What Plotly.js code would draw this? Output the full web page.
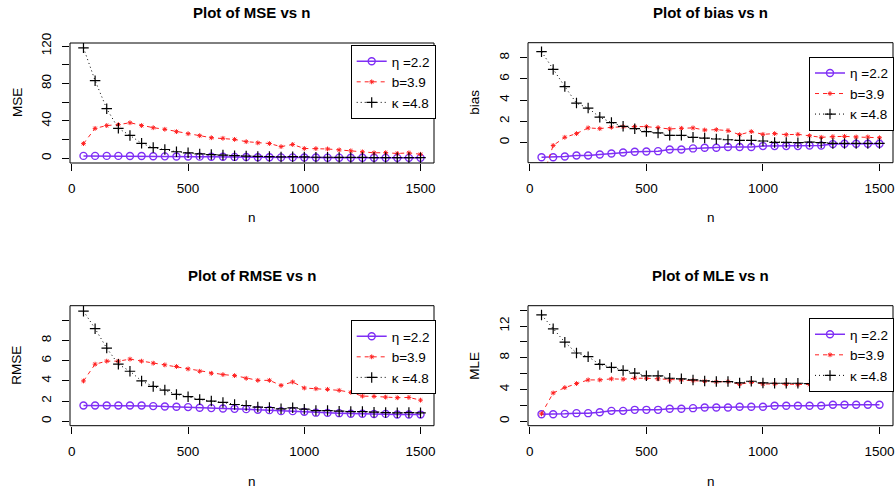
<!DOCTYPE html>
<html>
<head>
<meta charset="utf-8">
<script src="https://cdn.plot.ly/plotly-3.0.1.min.js"></script>
<style>html,body{margin:0;padding:0;background:#fff;}#chart{width:896px;height:488px;}</style>
</head>
<body>
<div id="chart"></div>
<script>
// ---- data ----
var n = [50,100,150,200,250,300,350,400,450,500,550,600,650,700,750,800,850,900,950,1000,1050,1100,1150,1200,1250,1300,1350,1400,1450,1500];

var seriesNames = ['\u03b7 =2.2', 'b=3.9', '\u03ba =4.8'];
var panelTitles = ['Plot of MSE vs n', 'Plot of bias vs n', 'Plot of RMSE vs n', 'Plot of MLE vs n'];
var yTitles = ['MSE', 'bias', 'RMSE', 'MLE'];
var xTickVals = [0, 500, 1000, 1500];
var xTickText = ['0', '500', '1000', '1500'];

var mseEta   = [2.6,2.6,2.6,2.6,2.5,2.5,2.2,2.1,2.0,1.9,1.8,1.6,1.6,1.5,1.4,1.2,1.1,1.0,1.0,0.9,0.8,0.7,0.7,0.6,0.6,0.6,0.5,0.5,0.5,0.5];
var mseB     = [15.7,32,35,36,38,35,32.7,31,28.5,26.3,24.2,22,21.4,20.2,17.8,16.5,15.8,12.5,14.8,10.5,10.4,10,9,8,6.9,5.9,6,5.2,5.8,4.3];
var mseKappa = [118,83,53,32,24.5,16,11.5,9.4,7,5.9,4.7,4,3.5,2.8,2.4,2.0,1.85,1.5,1.8,1.45,1.15,1.12,1.0,0.92,0.92,0.8,0.75,0.7,0.74,0.7];

var biasEta   = [-1.4,-1.4,-1.33,-1.24,-1.24,-1.14,-1.05,-0.95,-0.89,-0.86,-0.83,-0.67,-0.67,-0.57,-0.51,-0.51,-0.44,-0.44,-0.44,-0.35,-0.35,-0.35,-0.35,-0.29,-0.29,-0.16,-0.13,-0.13,-0.13,-0.13];
var biasB     = [-3.6,-0.29,0.48,0.83,1.37,1.3,1.43,1.49,1.49,1.49,1.4,1.27,1.33,1.37,1.17,1.2,1.11,0.73,1.02,0.76,0.83,0.73,0.76,0.63,0.48,0.54,0.57,0.51,0.51,0.44];
var biasKappa = [8.57,6.89,5.27,3.71,3.24,2.38,1.87,1.52,1.3,1.02,0.89,0.67,0.67,0.48,0.41,0.32,0.25,0.19,0.19,0.13,0.0,0.0,-0.03,0.03,-0.03,-0.1,-0.1,-0.1,-0.1,-0.1];

var rmseEta   = [1.56,1.56,1.56,1.56,1.56,1.56,1.5,1.46,1.43,1.4,1.33,1.3,1.26,1.23,1.2,1.13,1.1,1.0,1.0,0.93,0.85,0.83,0.8,0.74,0.74,0.72,0.73,0.67,0.67,0.66];
var rmseB     = [3.99,5.65,5.95,5.95,6.15,5.95,5.75,5.58,5.42,5.18,4.95,4.75,4.62,4.52,4.25,4.05,4.05,3.55,3.89,3.29,3.22,3.16,3.06,2.86,2.49,2.46,2.39,2.33,2.36,2.09];
var rmseKappa = [10.9,9.17,7.24,5.65,4.95,3.99,3.45,3.09,2.66,2.43,2.16,2.0,1.86,1.66,1.56,1.4,1.36,1.23,1.33,1.2,1.06,1.06,1.0,0.96,0.96,0.9,0.86,0.83,0.86,0.83];

var mleEta   = [0.89,0.89,0.93,1.02,1.02,1.14,1.31,1.31,1.44,1.44,1.44,1.57,1.57,1.65,1.74,1.74,1.74,1.82,1.82,1.82,1.95,1.95,1.95,1.95,1.95,2.08,2.08,2.08,2.08,2.08];
var mleB     = [0.93,3.56,4.24,4.75,5.21,5.21,5.34,5.3,5.42,5.42,5.34,5.21,5.21,5.13,5.04,4.96,5.0,4.66,4.92,4.7,4.7,4.66,4.62,4.62,4.41,4.45,4.45,4.45,4.49,4.28];
var mleKappa = [13.4,11.65,9.96,8.6,8.14,7.16,6.78,6.4,6.06,5.72,5.72,5.42,5.34,5.21,5.08,5.0,5.0,4.83,5.04,4.83,4.79,4.79,4.79,4.75,4.92,4.66,4.66,4.66,4.79,4.62];

var yRanges = [[-5, 123.2], [-1.92, 9.42], [-0.44, 11.44], [-0.56, 14.56]];
var yTickVals = [[0,20,40,60,80,100,120], [0,2,4,6,8], [0,2,4,6,8,10], [0,2,4,6,8,10,12,14]];
var yTickText = [['0','','40','','80','','120'], ['0','2','4','6','8'], ['0','2','4','6','8',''], ['0','','4','','8','','12','']];

// ---- styling ----
var FONT = 'Liberation Sans, Arial, Helvetica, sans-serif';
var W = 896, H = 488;
var colEta = '#7F2FF5', colB = '#FF2020', colK = '#000000';

// plot boxes in pixels [x0, x1, yTop, yBottom]
var boxes = [[70, 434, 43, 163], [528, 893, 42.7, 162.7], [70, 434, 305.7, 425.7], [528, 893, 305.7, 425.7]];
var legendPos = [[350.7, 45], [809, 56.7], [350.7, 320], [809, 318]];
var titleY = [12.5, 12.5, 275, 275];
var xTitleY = [217, 217, 481, 481];

var panelData = [
  [mseEta, mseB, mseKappa],
  [biasEta, biasB, biasKappa],
  [rmseEta, rmseB, rmseKappa],
  [mleEta, mleB, mleKappa]
];

var traces = [];
var layout = {
  width: W, height: H,
  margin: {l: 0, r: 0, t: 0, b: 0},
  paper_bgcolor: '#fff', plot_bgcolor: '#fff',
  font: {family: FONT, color: '#000', size: 13.5},
  showlegend: true,
  shapes: [], annotations: []
};

for (var p = 0; p < 4; p++) {
  var sfx = p === 0 ? '' : String(p + 1);
  var xa = 'x' + sfx, ya = 'y' + sfx;
  var lg = 'legend' + sfx;
  var d = panelData[p];
  traces.push({
    x: n, y: d[0], xaxis: xa, yaxis: ya, legend: lg, name: seriesNames[0],
    mode: 'lines+markers', type: 'scatter',
    line: {color: colEta, width: 1.5},
    marker: {symbol: 'circle-open', size: 7, color: colEta, line: {width: 1.4, color: colEta}}
  });
  traces.push({
    x: n, y: d[1], xaxis: xa, yaxis: ya, legend: lg, name: seriesNames[1],
    mode: 'lines+markers', type: 'scatter',
    line: {color: colB, width: 1, dash: '4px,4px'},
    marker: {symbol: 'asterisk-open', size: 4, color: colB, line: {width: 1, color: colB}}
  });
  traces.push({
    x: n, y: d[2], xaxis: xa, yaxis: ya, legend: lg, name: seriesNames[2],
    mode: 'lines+markers', type: 'scatter',
    line: {color: colK, width: 1, dash: '1px,3px'},
    marker: {symbol: 'cross-thin-open', size: 7.5, color: colK, line: {width: 1.2, color: colK}}
  });

  var b = boxes[p];
  var xaxisKey = 'xaxis' + sfx, yaxisKey = 'yaxis' + sfx;
  layout[xaxisKey] = {
    domain: [b[0] / W, b[1] / W], anchor: ya,
    range: [-8, 1558], tickvals: xTickVals, ticktext: xTickText,
    ticks: 'outside', ticklen: 7, tickwidth: 1, tickcolor: '#000',
    showgrid: false, zeroline: false, showline: false,
    tickfont: {family: FONT, size: 13.5, color: '#000'}, ticklabelstandoff: 6,
    fixedrange: true
  };
  layout[yaxisKey] = {
    domain: [1 - b[3] / H, 1 - b[2] / H], anchor: xa,
    range: yRanges[p], tickvals: yTickVals[p], ticktext: yTickText[p],
    ticks: 'outside', ticklen: 7, tickwidth: 1, tickcolor: '#000', tickangle: -90,
    showgrid: false, zeroline: false, showline: false,
    tickfont: {family: FONT, size: 13.5, color: '#000'}, ticklabelstandoff: 6,
    fixedrange: true
  };
  layout.shapes.push({
    type: 'rect', xref: xa + ' domain', yref: ya + ' domain',
    x0: 0, x1: 1, y0: 0, y1: 1, line: {color: '#000', width: 1}, layer: 'above'
  });
  var lp = legendPos[p];
  layout[lg] = {
    x: lp[0] / W, y: 1 - lp[1] / H, xanchor: 'left', yanchor: 'top',
    bgcolor: '#fff', bordercolor: '#000', borderwidth: 1,
    font: {family: FONT, size: 13.5, color: '#000'},
    itemwidth: 30, tracegroupgap: 0, itemclick: false, itemdoubleclick: false
  };
  var cx = (b[0] + b[1]) / 2;
  layout.annotations.push({
    text: '<b>' + panelTitles[p] + '</b>', xref: 'paper', yref: 'paper',
    x: cx / W, y: 1 - titleY[p] / H, xanchor: 'center', yanchor: 'middle',
    showarrow: false, font: {family: FONT, size: 15, color: '#000'}
  });
  layout.annotations.push({
    text: 'n', xref: 'paper', yref: 'paper',
    x: cx / W, y: 1 - xTitleY[p] / H, xanchor: 'center', yanchor: 'middle',
    showarrow: false, font: {family: FONT, size: 13.5, color: '#000'}
  });
  layout.annotations.push({
    text: yTitles[p], xref: 'paper', yref: 'paper', textangle: -90,
    x: (b[0] - 53) / W, y: 1 - ((b[2] + b[3]) / 2) / H, xanchor: 'center', yanchor: 'middle',
    showarrow: false, font: {family: FONT, size: 13.5, color: '#000'}
  });
}

Plotly.newPlot('chart', traces, layout, {staticPlot: true, displayModeBar: false});
</script>
</body>
</html>
